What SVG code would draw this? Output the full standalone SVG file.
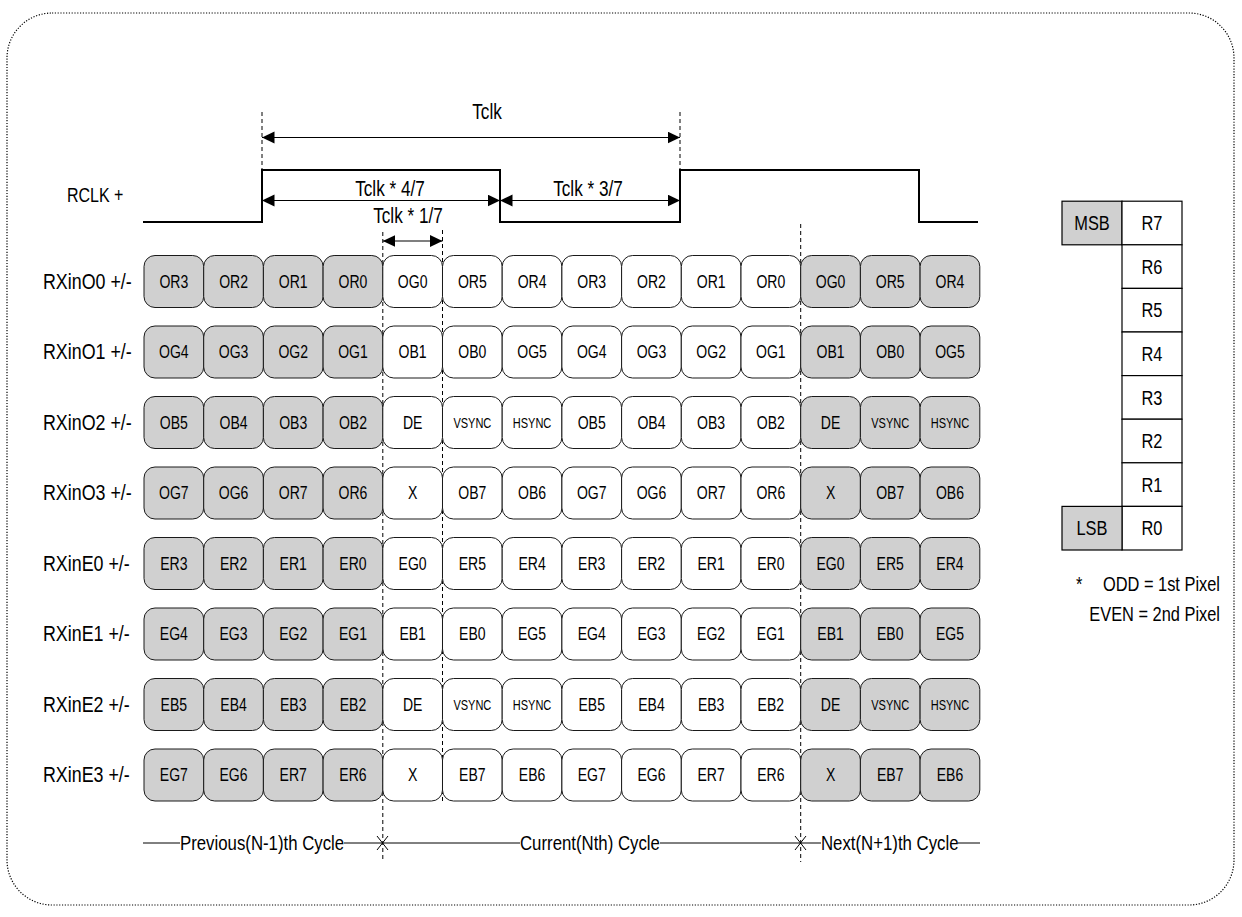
<svg xmlns="http://www.w3.org/2000/svg" width="1242" height="917" viewBox="0 0 1242 917">
<style>
text{font-family:"Liberation Sans",Arial,sans-serif;fill:#000;transform-box:fill-box;transform:scale(0.8,1);transform-origin:0% 50%}
.lbl{font-size:21.5px;transform:scale(0.83,1)}
.tl{font-size:21.5px}
.cyc{font-size:21px}
.lgd{font-size:20.5px}
.ct{font-size:18px;text-anchor:middle;transform-origin:50% 50%;transform:scale(0.78,1)}
.cs{font-size:14.5px;text-anchor:middle;transform-origin:50% 50%;transform:scale(0.76,1)}
.mid{text-anchor:middle;transform-origin:50% 50%}
.end{text-anchor:end;transform-origin:100% 50%}
.cg{fill:#d0d0d0;stroke:#1a1a1a;stroke-width:1}
.cw{fill:#fff;stroke:#1a1a1a;stroke-width:1}
.dash{stroke:#000;stroke-width:1;stroke-dasharray:4 3;fill:none}
.thin{stroke:#000;stroke-width:1;fill:none}
.arr{stroke:#000;stroke-width:1.2;fill:none;marker-start:url(#ah);marker-end:url(#ah)}
.lg{fill:#d0d0d0;stroke:#000;stroke-width:1.2}
.lw{fill:#fff;stroke:#000;stroke-width:1.2}
</style>
<defs>
<marker id="ah" markerWidth="13" markerHeight="13" refX="12.5" refY="6" orient="auto-start-reverse" markerUnits="userSpaceOnUse"><path d="M0,0 L12.5,6 L0,12 z" fill="#000"/></marker>
</defs>
<rect id="border" x="7" y="13" width="1227" height="892" rx="45" fill="none" stroke="#000" stroke-width="1.2" stroke-dasharray="1.2 1.6"/>

<g id="connectors">
<path id="rclk-wave" d="M143,222 H262 V170 H500 V222 H680 V170 H919 V222 H978" fill="none" stroke="#000" stroke-width="2"/>
<line class="dash" x1="262" y1="112" x2="262" y2="170"/>
<line class="dash" x1="680" y1="112" x2="680" y2="170"/>
<line class="dash" x1="382.8" y1="232" x2="382.8" y2="862"/>
<line class="dash" x1="442.5" y1="230" x2="442.5" y2="801"/>
<line class="dash" x1="800.7" y1="224" x2="800.7" y2="862"/>
<line class="arr" x1="262" y1="137.5" x2="680" y2="137.5"/>
<line class="arr" x1="262" y1="200.5" x2="500" y2="200.5"/>
<line class="arr" x1="500" y1="200.5" x2="680" y2="200.5"/>
<line class="arr" x1="382.8" y1="241" x2="442.5" y2="241"/>
<path class="thin" d="M143,843 H180 M344,843 H520 M660,843 H821 M958,843 H980"/>
<path class="thin" d="M377,836 L388,850 M388,836 L377,850 M795,836 L806,850 M806,836 L795,850"/>
</g>

<g id="timing-labels">
<text class="tl mid" x="487" y="119">Tclk</text>
<text class="tl mid" x="390" y="196">Tclk * 4/7</text>
<text class="tl mid" x="588" y="196">Tclk * 3/7</text>
<text class="tl mid" x="408" y="223">Tclk * 1/7</text>
<text x="67" y="202" style="font-size:20px">RCLK +</text>
<text class="cyc" x="180" y="850.5">Previous(N-1)th Cycle</text>
<text class="cyc" x="520" y="850.5">Current(Nth) Cycle</text>
<text class="cyc" x="821" y="850.5">Next(N+1)th Cycle</text>
</g>

<g id="row-labels">
<text class="lbl" x="43" y="289">RXinO0 +/-</text>
<text class="lbl" x="43" y="359.5">RXinO1 +/-</text>
<text class="lbl" x="43" y="430">RXinO2 +/-</text>
<text class="lbl" x="43" y="500.5">RXinO3 +/-</text>
<text class="lbl" x="43" y="571">RXinE0 +/-</text>
<text class="lbl" x="43" y="641.5">RXinE1 +/-</text>
<text class="lbl" x="43" y="712">RXinE2 +/-</text>
<text class="lbl" x="43" y="782.5">RXinE3 +/-</text>
</g>

<g id="row-O0">
<g id="O0-0" transform="translate(144,255.5)"><rect class="cg" width="59.7" height="52" rx="11"/><text class="ct" x="29.85" y="32.5">OR3</text></g>
<g id="O0-1" transform="translate(203.7,255.5)"><rect class="cg" width="59.7" height="52" rx="11"/><text class="ct" x="29.85" y="32.5">OR2</text></g>
<g id="O0-2" transform="translate(263.4,255.5)"><rect class="cg" width="59.7" height="52" rx="11"/><text class="ct" x="29.85" y="32.5">OR1</text></g>
<g id="O0-3" transform="translate(323.1,255.5)"><rect class="cg" width="59.7" height="52" rx="11"/><text class="ct" x="29.85" y="32.5">OR0</text></g>
<g id="O0-4" transform="translate(382.8,255.5)"><rect class="cw" width="59.7" height="52" rx="11"/><text class="ct" x="29.85" y="32.5">OG0</text></g>
<g id="O0-5" transform="translate(442.5,255.5)"><rect class="cw" width="59.7" height="52" rx="11"/><text class="ct" x="29.85" y="32.5">OR5</text></g>
<g id="O0-6" transform="translate(502.2,255.5)"><rect class="cw" width="59.7" height="52" rx="11"/><text class="ct" x="29.85" y="32.5">OR4</text></g>
<g id="O0-7" transform="translate(561.9,255.5)"><rect class="cw" width="59.7" height="52" rx="11"/><text class="ct" x="29.85" y="32.5">OR3</text></g>
<g id="O0-8" transform="translate(621.6,255.5)"><rect class="cw" width="59.7" height="52" rx="11"/><text class="ct" x="29.85" y="32.5">OR2</text></g>
<g id="O0-9" transform="translate(681.3,255.5)"><rect class="cw" width="59.7" height="52" rx="11"/><text class="ct" x="29.85" y="32.5">OR1</text></g>
<g id="O0-10" transform="translate(741,255.5)"><rect class="cw" width="59.7" height="52" rx="11"/><text class="ct" x="29.85" y="32.5">OR0</text></g>
<g id="O0-11" transform="translate(800.7,255.5)"><rect class="cg" width="59.7" height="52" rx="11"/><text class="ct" x="29.85" y="32.5">OG0</text></g>
<g id="O0-12" transform="translate(860.4,255.5)"><rect class="cg" width="59.7" height="52" rx="11"/><text class="ct" x="29.85" y="32.5">OR5</text></g>
<g id="O0-13" transform="translate(920.1,255.5)"><rect class="cg" width="59.7" height="52" rx="11"/><text class="ct" x="29.85" y="32.5">OR4</text></g>
</g>

<g id="row-O1">
<g id="O1-0" transform="translate(144,326)"><rect class="cg" width="59.7" height="52" rx="11"/><text class="ct" x="29.85" y="32.5">OG4</text></g>
<g id="O1-1" transform="translate(203.7,326)"><rect class="cg" width="59.7" height="52" rx="11"/><text class="ct" x="29.85" y="32.5">OG3</text></g>
<g id="O1-2" transform="translate(263.4,326)"><rect class="cg" width="59.7" height="52" rx="11"/><text class="ct" x="29.85" y="32.5">OG2</text></g>
<g id="O1-3" transform="translate(323.1,326)"><rect class="cg" width="59.7" height="52" rx="11"/><text class="ct" x="29.85" y="32.5">OG1</text></g>
<g id="O1-4" transform="translate(382.8,326)"><rect class="cw" width="59.7" height="52" rx="11"/><text class="ct" x="29.85" y="32.5">OB1</text></g>
<g id="O1-5" transform="translate(442.5,326)"><rect class="cw" width="59.7" height="52" rx="11"/><text class="ct" x="29.85" y="32.5">OB0</text></g>
<g id="O1-6" transform="translate(502.2,326)"><rect class="cw" width="59.7" height="52" rx="11"/><text class="ct" x="29.85" y="32.5">OG5</text></g>
<g id="O1-7" transform="translate(561.9,326)"><rect class="cw" width="59.7" height="52" rx="11"/><text class="ct" x="29.85" y="32.5">OG4</text></g>
<g id="O1-8" transform="translate(621.6,326)"><rect class="cw" width="59.7" height="52" rx="11"/><text class="ct" x="29.85" y="32.5">OG3</text></g>
<g id="O1-9" transform="translate(681.3,326)"><rect class="cw" width="59.7" height="52" rx="11"/><text class="ct" x="29.85" y="32.5">OG2</text></g>
<g id="O1-10" transform="translate(741,326)"><rect class="cw" width="59.7" height="52" rx="11"/><text class="ct" x="29.85" y="32.5">OG1</text></g>
<g id="O1-11" transform="translate(800.7,326)"><rect class="cg" width="59.7" height="52" rx="11"/><text class="ct" x="29.85" y="32.5">OB1</text></g>
<g id="O1-12" transform="translate(860.4,326)"><rect class="cg" width="59.7" height="52" rx="11"/><text class="ct" x="29.85" y="32.5">OB0</text></g>
<g id="O1-13" transform="translate(920.1,326)"><rect class="cg" width="59.7" height="52" rx="11"/><text class="ct" x="29.85" y="32.5">OG5</text></g>
</g>

<g id="row-O2">
<g id="O2-0" transform="translate(144,396.5)"><rect class="cg" width="59.7" height="52" rx="11"/><text class="ct" x="29.85" y="32.5">OB5</text></g>
<g id="O2-1" transform="translate(203.7,396.5)"><rect class="cg" width="59.7" height="52" rx="11"/><text class="ct" x="29.85" y="32.5">OB4</text></g>
<g id="O2-2" transform="translate(263.4,396.5)"><rect class="cg" width="59.7" height="52" rx="11"/><text class="ct" x="29.85" y="32.5">OB3</text></g>
<g id="O2-3" transform="translate(323.1,396.5)"><rect class="cg" width="59.7" height="52" rx="11"/><text class="ct" x="29.85" y="32.5">OB2</text></g>
<g id="O2-4" transform="translate(382.8,396.5)"><rect class="cw" width="59.7" height="52" rx="11"/><text class="ct" x="29.85" y="32.5">DE</text></g>
<g id="O2-5" transform="translate(442.5,396.5)"><rect class="cw" width="59.7" height="52" rx="11"/><text class="cs" x="29.85" y="31.2">VSYNC</text></g>
<g id="O2-6" transform="translate(502.2,396.5)"><rect class="cw" width="59.7" height="52" rx="11"/><text class="cs" x="29.85" y="31.2">HSYNC</text></g>
<g id="O2-7" transform="translate(561.9,396.5)"><rect class="cw" width="59.7" height="52" rx="11"/><text class="ct" x="29.85" y="32.5">OB5</text></g>
<g id="O2-8" transform="translate(621.6,396.5)"><rect class="cw" width="59.7" height="52" rx="11"/><text class="ct" x="29.85" y="32.5">OB4</text></g>
<g id="O2-9" transform="translate(681.3,396.5)"><rect class="cw" width="59.7" height="52" rx="11"/><text class="ct" x="29.85" y="32.5">OB3</text></g>
<g id="O2-10" transform="translate(741,396.5)"><rect class="cw" width="59.7" height="52" rx="11"/><text class="ct" x="29.85" y="32.5">OB2</text></g>
<g id="O2-11" transform="translate(800.7,396.5)"><rect class="cg" width="59.7" height="52" rx="11"/><text class="ct" x="29.85" y="32.5">DE</text></g>
<g id="O2-12" transform="translate(860.4,396.5)"><rect class="cg" width="59.7" height="52" rx="11"/><text class="cs" x="29.85" y="31.2">VSYNC</text></g>
<g id="O2-13" transform="translate(920.1,396.5)"><rect class="cg" width="59.7" height="52" rx="11"/><text class="cs" x="29.85" y="31.2">HSYNC</text></g>
</g>

<g id="row-O3">
<g id="O3-0" transform="translate(144,467)"><rect class="cg" width="59.7" height="52" rx="11"/><text class="ct" x="29.85" y="32.5">OG7</text></g>
<g id="O3-1" transform="translate(203.7,467)"><rect class="cg" width="59.7" height="52" rx="11"/><text class="ct" x="29.85" y="32.5">OG6</text></g>
<g id="O3-2" transform="translate(263.4,467)"><rect class="cg" width="59.7" height="52" rx="11"/><text class="ct" x="29.85" y="32.5">OR7</text></g>
<g id="O3-3" transform="translate(323.1,467)"><rect class="cg" width="59.7" height="52" rx="11"/><text class="ct" x="29.85" y="32.5">OR6</text></g>
<g id="O3-4" transform="translate(382.8,467)"><rect class="cw" width="59.7" height="52" rx="11"/><text class="ct" x="29.85" y="32.5">X</text></g>
<g id="O3-5" transform="translate(442.5,467)"><rect class="cw" width="59.7" height="52" rx="11"/><text class="ct" x="29.85" y="32.5">OB7</text></g>
<g id="O3-6" transform="translate(502.2,467)"><rect class="cw" width="59.7" height="52" rx="11"/><text class="ct" x="29.85" y="32.5">OB6</text></g>
<g id="O3-7" transform="translate(561.9,467)"><rect class="cw" width="59.7" height="52" rx="11"/><text class="ct" x="29.85" y="32.5">OG7</text></g>
<g id="O3-8" transform="translate(621.6,467)"><rect class="cw" width="59.7" height="52" rx="11"/><text class="ct" x="29.85" y="32.5">OG6</text></g>
<g id="O3-9" transform="translate(681.3,467)"><rect class="cw" width="59.7" height="52" rx="11"/><text class="ct" x="29.85" y="32.5">OR7</text></g>
<g id="O3-10" transform="translate(741,467)"><rect class="cw" width="59.7" height="52" rx="11"/><text class="ct" x="29.85" y="32.5">OR6</text></g>
<g id="O3-11" transform="translate(800.7,467)"><rect class="cg" width="59.7" height="52" rx="11"/><text class="ct" x="29.85" y="32.5">X</text></g>
<g id="O3-12" transform="translate(860.4,467)"><rect class="cg" width="59.7" height="52" rx="11"/><text class="ct" x="29.85" y="32.5">OB7</text></g>
<g id="O3-13" transform="translate(920.1,467)"><rect class="cg" width="59.7" height="52" rx="11"/><text class="ct" x="29.85" y="32.5">OB6</text></g>
</g>

<g id="row-E0">
<g id="E0-0" transform="translate(144,537.5)"><rect class="cg" width="59.7" height="52" rx="11"/><text class="ct" x="29.85" y="32.5">ER3</text></g>
<g id="E0-1" transform="translate(203.7,537.5)"><rect class="cg" width="59.7" height="52" rx="11"/><text class="ct" x="29.85" y="32.5">ER2</text></g>
<g id="E0-2" transform="translate(263.4,537.5)"><rect class="cg" width="59.7" height="52" rx="11"/><text class="ct" x="29.85" y="32.5">ER1</text></g>
<g id="E0-3" transform="translate(323.1,537.5)"><rect class="cg" width="59.7" height="52" rx="11"/><text class="ct" x="29.85" y="32.5">ER0</text></g>
<g id="E0-4" transform="translate(382.8,537.5)"><rect class="cw" width="59.7" height="52" rx="11"/><text class="ct" x="29.85" y="32.5">EG0</text></g>
<g id="E0-5" transform="translate(442.5,537.5)"><rect class="cw" width="59.7" height="52" rx="11"/><text class="ct" x="29.85" y="32.5">ER5</text></g>
<g id="E0-6" transform="translate(502.2,537.5)"><rect class="cw" width="59.7" height="52" rx="11"/><text class="ct" x="29.85" y="32.5">ER4</text></g>
<g id="E0-7" transform="translate(561.9,537.5)"><rect class="cw" width="59.7" height="52" rx="11"/><text class="ct" x="29.85" y="32.5">ER3</text></g>
<g id="E0-8" transform="translate(621.6,537.5)"><rect class="cw" width="59.7" height="52" rx="11"/><text class="ct" x="29.85" y="32.5">ER2</text></g>
<g id="E0-9" transform="translate(681.3,537.5)"><rect class="cw" width="59.7" height="52" rx="11"/><text class="ct" x="29.85" y="32.5">ER1</text></g>
<g id="E0-10" transform="translate(741,537.5)"><rect class="cw" width="59.7" height="52" rx="11"/><text class="ct" x="29.85" y="32.5">ER0</text></g>
<g id="E0-11" transform="translate(800.7,537.5)"><rect class="cg" width="59.7" height="52" rx="11"/><text class="ct" x="29.85" y="32.5">EG0</text></g>
<g id="E0-12" transform="translate(860.4,537.5)"><rect class="cg" width="59.7" height="52" rx="11"/><text class="ct" x="29.85" y="32.5">ER5</text></g>
<g id="E0-13" transform="translate(920.1,537.5)"><rect class="cg" width="59.7" height="52" rx="11"/><text class="ct" x="29.85" y="32.5">ER4</text></g>
</g>

<g id="row-E1">
<g id="E1-0" transform="translate(144,608)"><rect class="cg" width="59.7" height="52" rx="11"/><text class="ct" x="29.85" y="32.5">EG4</text></g>
<g id="E1-1" transform="translate(203.7,608)"><rect class="cg" width="59.7" height="52" rx="11"/><text class="ct" x="29.85" y="32.5">EG3</text></g>
<g id="E1-2" transform="translate(263.4,608)"><rect class="cg" width="59.7" height="52" rx="11"/><text class="ct" x="29.85" y="32.5">EG2</text></g>
<g id="E1-3" transform="translate(323.1,608)"><rect class="cg" width="59.7" height="52" rx="11"/><text class="ct" x="29.85" y="32.5">EG1</text></g>
<g id="E1-4" transform="translate(382.8,608)"><rect class="cw" width="59.7" height="52" rx="11"/><text class="ct" x="29.85" y="32.5">EB1</text></g>
<g id="E1-5" transform="translate(442.5,608)"><rect class="cw" width="59.7" height="52" rx="11"/><text class="ct" x="29.85" y="32.5">EB0</text></g>
<g id="E1-6" transform="translate(502.2,608)"><rect class="cw" width="59.7" height="52" rx="11"/><text class="ct" x="29.85" y="32.5">EG5</text></g>
<g id="E1-7" transform="translate(561.9,608)"><rect class="cw" width="59.7" height="52" rx="11"/><text class="ct" x="29.85" y="32.5">EG4</text></g>
<g id="E1-8" transform="translate(621.6,608)"><rect class="cw" width="59.7" height="52" rx="11"/><text class="ct" x="29.85" y="32.5">EG3</text></g>
<g id="E1-9" transform="translate(681.3,608)"><rect class="cw" width="59.7" height="52" rx="11"/><text class="ct" x="29.85" y="32.5">EG2</text></g>
<g id="E1-10" transform="translate(741,608)"><rect class="cw" width="59.7" height="52" rx="11"/><text class="ct" x="29.85" y="32.5">EG1</text></g>
<g id="E1-11" transform="translate(800.7,608)"><rect class="cg" width="59.7" height="52" rx="11"/><text class="ct" x="29.85" y="32.5">EB1</text></g>
<g id="E1-12" transform="translate(860.4,608)"><rect class="cg" width="59.7" height="52" rx="11"/><text class="ct" x="29.85" y="32.5">EB0</text></g>
<g id="E1-13" transform="translate(920.1,608)"><rect class="cg" width="59.7" height="52" rx="11"/><text class="ct" x="29.85" y="32.5">EG5</text></g>
</g>

<g id="row-E2">
<g id="E2-0" transform="translate(144,678.5)"><rect class="cg" width="59.7" height="52" rx="11"/><text class="ct" x="29.85" y="32.5">EB5</text></g>
<g id="E2-1" transform="translate(203.7,678.5)"><rect class="cg" width="59.7" height="52" rx="11"/><text class="ct" x="29.85" y="32.5">EB4</text></g>
<g id="E2-2" transform="translate(263.4,678.5)"><rect class="cg" width="59.7" height="52" rx="11"/><text class="ct" x="29.85" y="32.5">EB3</text></g>
<g id="E2-3" transform="translate(323.1,678.5)"><rect class="cg" width="59.7" height="52" rx="11"/><text class="ct" x="29.85" y="32.5">EB2</text></g>
<g id="E2-4" transform="translate(382.8,678.5)"><rect class="cw" width="59.7" height="52" rx="11"/><text class="ct" x="29.85" y="32.5">DE</text></g>
<g id="E2-5" transform="translate(442.5,678.5)"><rect class="cw" width="59.7" height="52" rx="11"/><text class="cs" x="29.85" y="31.2">VSYNC</text></g>
<g id="E2-6" transform="translate(502.2,678.5)"><rect class="cw" width="59.7" height="52" rx="11"/><text class="cs" x="29.85" y="31.2">HSYNC</text></g>
<g id="E2-7" transform="translate(561.9,678.5)"><rect class="cw" width="59.7" height="52" rx="11"/><text class="ct" x="29.85" y="32.5">EB5</text></g>
<g id="E2-8" transform="translate(621.6,678.5)"><rect class="cw" width="59.7" height="52" rx="11"/><text class="ct" x="29.85" y="32.5">EB4</text></g>
<g id="E2-9" transform="translate(681.3,678.5)"><rect class="cw" width="59.7" height="52" rx="11"/><text class="ct" x="29.85" y="32.5">EB3</text></g>
<g id="E2-10" transform="translate(741,678.5)"><rect class="cw" width="59.7" height="52" rx="11"/><text class="ct" x="29.85" y="32.5">EB2</text></g>
<g id="E2-11" transform="translate(800.7,678.5)"><rect class="cg" width="59.7" height="52" rx="11"/><text class="ct" x="29.85" y="32.5">DE</text></g>
<g id="E2-12" transform="translate(860.4,678.5)"><rect class="cg" width="59.7" height="52" rx="11"/><text class="cs" x="29.85" y="31.2">VSYNC</text></g>
<g id="E2-13" transform="translate(920.1,678.5)"><rect class="cg" width="59.7" height="52" rx="11"/><text class="cs" x="29.85" y="31.2">HSYNC</text></g>
</g>

<g id="row-E3">
<g id="E3-0" transform="translate(144,749)"><rect class="cg" width="59.7" height="52" rx="11"/><text class="ct" x="29.85" y="32.5">EG7</text></g>
<g id="E3-1" transform="translate(203.7,749)"><rect class="cg" width="59.7" height="52" rx="11"/><text class="ct" x="29.85" y="32.5">EG6</text></g>
<g id="E3-2" transform="translate(263.4,749)"><rect class="cg" width="59.7" height="52" rx="11"/><text class="ct" x="29.85" y="32.5">ER7</text></g>
<g id="E3-3" transform="translate(323.1,749)"><rect class="cg" width="59.7" height="52" rx="11"/><text class="ct" x="29.85" y="32.5">ER6</text></g>
<g id="E3-4" transform="translate(382.8,749)"><rect class="cw" width="59.7" height="52" rx="11"/><text class="ct" x="29.85" y="32.5">X</text></g>
<g id="E3-5" transform="translate(442.5,749)"><rect class="cw" width="59.7" height="52" rx="11"/><text class="ct" x="29.85" y="32.5">EB7</text></g>
<g id="E3-6" transform="translate(502.2,749)"><rect class="cw" width="59.7" height="52" rx="11"/><text class="ct" x="29.85" y="32.5">EB6</text></g>
<g id="E3-7" transform="translate(561.9,749)"><rect class="cw" width="59.7" height="52" rx="11"/><text class="ct" x="29.85" y="32.5">EG7</text></g>
<g id="E3-8" transform="translate(621.6,749)"><rect class="cw" width="59.7" height="52" rx="11"/><text class="ct" x="29.85" y="32.5">EG6</text></g>
<g id="E3-9" transform="translate(681.3,749)"><rect class="cw" width="59.7" height="52" rx="11"/><text class="ct" x="29.85" y="32.5">ER7</text></g>
<g id="E3-10" transform="translate(741,749)"><rect class="cw" width="59.7" height="52" rx="11"/><text class="ct" x="29.85" y="32.5">ER6</text></g>
<g id="E3-11" transform="translate(800.7,749)"><rect class="cg" width="59.7" height="52" rx="11"/><text class="ct" x="29.85" y="32.5">X</text></g>
<g id="E3-12" transform="translate(860.4,749)"><rect class="cg" width="59.7" height="52" rx="11"/><text class="ct" x="29.85" y="32.5">EB7</text></g>
<g id="E3-13" transform="translate(920.1,749)"><rect class="cg" width="59.7" height="52" rx="11"/><text class="ct" x="29.85" y="32.5">EB6</text></g>
</g>

<g id="legend">
<g id="msb"><rect class="lg" x="1062" y="201.2" width="60" height="43.6"/><text class="lgd mid" x="1092" y="230.3">MSB</text></g>
<g id="r7"><rect class="lw" x="1122" y="201.2" width="60" height="43.6"/><text class="lgd mid" x="1152" y="230.3">R7</text></g>
<g id="r6"><rect class="lw" x="1122" y="244.8" width="60" height="43.6"/><text class="lgd mid" x="1152" y="273.9">R6</text></g>
<g id="r5"><rect class="lw" x="1122" y="288.4" width="60" height="43.6"/><text class="lgd mid" x="1152" y="317.5">R5</text></g>
<g id="r4"><rect class="lw" x="1122" y="332" width="60" height="43.6"/><text class="lgd mid" x="1152" y="361.1">R4</text></g>
<g id="r3"><rect class="lw" x="1122" y="375.6" width="60" height="43.6"/><text class="lgd mid" x="1152" y="404.7">R3</text></g>
<g id="r2"><rect class="lw" x="1122" y="419.2" width="60" height="43.6"/><text class="lgd mid" x="1152" y="448.3">R2</text></g>
<g id="r1"><rect class="lw" x="1122" y="462.8" width="60" height="43.6"/><text class="lgd mid" x="1152" y="491.9">R1</text></g>
<g id="r0"><rect class="lw" x="1122" y="506.4" width="60" height="43.6"/><text class="lgd mid" x="1152" y="535.5">R0</text></g>
<g id="lsb"><rect class="lg" x="1062" y="506.4" width="60" height="43.6"/><text class="lgd mid" x="1092" y="535.5">LSB</text></g>
<g id="note">
<text class="lgd" x="1076" y="591">*</text>
<text class="lgd end" x="1220" y="591">ODD = 1st Pixel</text>
<text class="lgd end" x="1220" y="621">EVEN = 2nd Pixel</text>
</g>
</g>
</svg>
